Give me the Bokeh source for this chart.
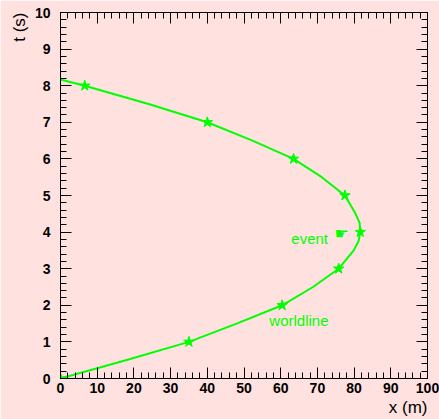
from bokeh.plotting import figure
from bokeh.models import Range1d, LinearAxis, SingleIntervalTicker, Label, Title
from bokeh.embed import file_html
from bokeh.resources import INLINE

# star markers (t in s, x in m)
t_star = [0, 1, 2, 3, 4, 5, 6, 7, 8]
x_star = [0.0, 35.0, 60.4, 75.8, 81.7, 77.5, 63.5, 40.0, 6.6]

# worldline curve
t_curve = [0, 0.5, 1, 1.5, 2, 2.5, 3, 3.5, 3.75, 4, 4.25, 4.5, 5, 5.5, 6, 6.5, 7, 7.5, 8, 8.17]
x_curve = [0.0, 17.8, 35.0, 48.0, 60.4, 68.8, 75.8, 79.9, 81.2, 81.7, 81.5, 80.4, 77.5, 71.2,
           63.5, 52.3, 40.0, 24.0, 6.6, 0.0]

event_x, event_t = 76.6, 3.95

BG = "#ffe1df"
GREEN = "#00ff00"
FONT = "Liberation Sans"

p = figure(width=439, height=419, output_backend="svg", toolbar_location=None,
           x_range=Range1d(0, 100), y_range=Range1d(0, 10),
           min_border_left=60, min_border_right=12, min_border_top=12, min_border_bottom=41,
           background_fill_color=BG, border_fill_color=BG)
p.frame_width = 367
p.frame_height = 366
p.xgrid.visible = False
p.ygrid.visible = False
p.outline_line_color = "black"

def style(ax, labels=True):
    ax.major_tick_out = 0
    ax.minor_tick_out = 0
    ax.axis_line_color = "black"
    ax.major_tick_line_color = "black"
    ax.minor_tick_line_color = "black"
    ax.major_label_text_font = FONT
    ax.major_label_text_font_style = "bold"
    ax.major_label_text_font_size = "14px"
    ax.major_label_text_color = "black"
    if not labels:
        ax.major_label_text_font_size = "0px"
        ax.major_label_text_alpha = 0

xt = SingleIntervalTicker(interval=10, num_minor_ticks=5)
yt = SingleIntervalTicker(interval=1, num_minor_ticks=5)
p.xaxis.ticker = xt
p.yaxis.ticker = yt
for ax in p.xaxis:
    style(ax)
    ax.major_tick_in = 11
    ax.minor_tick_in = 6
    ax.major_label_standoff = 4
for ax in p.yaxis:
    style(ax)
    ax.major_tick_in = 11
    ax.minor_tick_in = 6
    ax.major_label_standoff = 10

top = LinearAxis(ticker=SingleIntervalTicker(interval=10, num_minor_ticks=5))
style(top, labels=False)
top.major_tick_in = 11
top.minor_tick_in = 6
p.add_layout(top, "above")
right = LinearAxis(ticker=SingleIntervalTicker(interval=1, num_minor_ticks=5))
style(right, labels=False)
right.major_tick_in = 11
right.minor_tick_in = 6
p.add_layout(right, "right")

p.line(x_curve, t_curve, line_color=GREEN, line_width=2)
p.scatter(x_star, t_star, marker="star", size=11, fill_color=GREEN, line_color=GREEN)

p.add_layout(Label(x=event_x, y=event_t, text="\u261b", text_color=GREEN,
                   text_font="DejaVu Sans", text_font_size="16px",
                   text_align="center", text_baseline="middle"))
p.add_layout(Label(x=62.9, y=3.83, text="event", text_color=GREEN, text_font=FONT,
                   text_font_size="15px", text_align="left", text_baseline="alphabetic"))
p.add_layout(Label(x=56.9, y=1.58, text="worldline", text_color=GREEN, text_font=FONT,
                   text_font_size="15px", text_align="left", text_baseline="alphabetic"))

xtitle = Title(text="x (m)", align="right", text_font=FONT, text_font_size="17px",
               text_font_style="normal", text_color="black", standoff=0)
p.add_layout(xtitle, "below")
ytitle = Title(text="t (s)", align="right", text_font=FONT, text_font_size="17px",
               text_font_style="normal", text_color="black", standoff=6)
p.add_layout(ytitle, "left")

open("out.html", "w").write(file_html(p, INLINE))
